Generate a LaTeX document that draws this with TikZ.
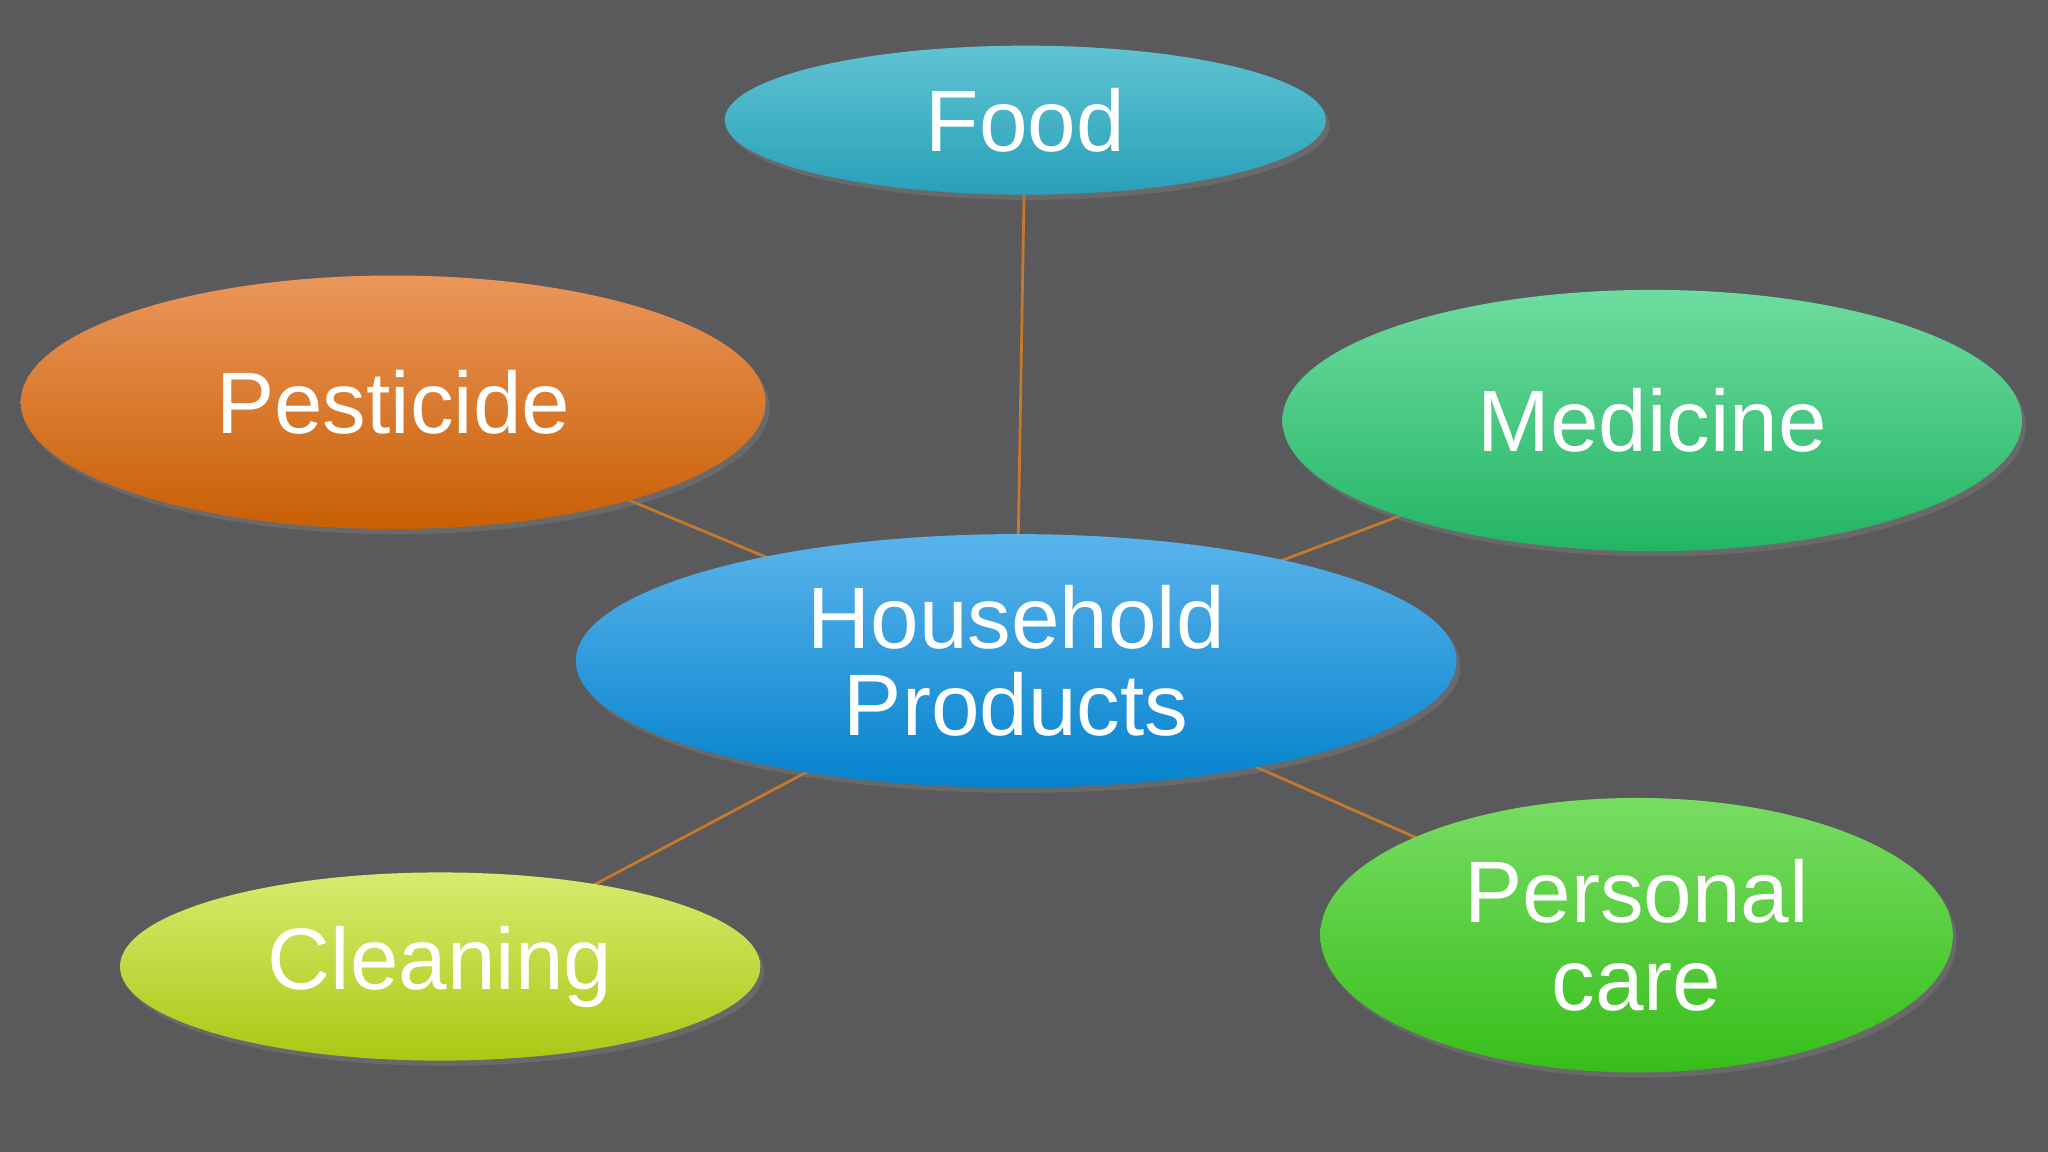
\documentclass[tikz,border=0pt]{standalone}
\usepackage{fontspec}
\setmainfont{Liberation Sans}
\usetikzlibrary{shapes.geometric,shadows}
\pgfdeclarelayer{bg}
\pgfsetlayers{bg,main}
\definecolor{bgc}{HTML}{5A5A5C}
\definecolor{linec}{HTML}{C8782A}
\tikzset{
 ell/.style={ellipse,inner sep=0pt,text=white,align=center,
   font=\fontsize{19}{19}\selectfont,drop shadow={opacity=0.4,shadow xshift=0.03cm,shadow yshift=-0.04cm}},
 conn/.style={draw=linec,line width=0.6pt}
}
\begin{document}
\begin{tikzpicture}[x=0.01cm,y=-0.01cm]
\begin{pgfonlayer}{bg}
\fill[bgc] (0,0) rectangle (1568,882);
\end{pgfonlayer}
\useasboundingbox (0,0) rectangle (1568,882);
\node[ell,minimum width=4.6cm,minimum height=1.14cm,top color={rgb,255:red,95;green,195;blue,210},bottom color={rgb,255:red,40;green,160;blue,185}] (food) at (785,92) {Food};
\node[ell,minimum width=5.7cm,minimum height=1.94cm,top color={rgb,255:red,235;green,150;blue,90},bottom color={rgb,255:red,200;green,95;blue,5}] (pest) at (301,308) {Pesticide};
\node[ell,minimum width=5.66cm,minimum height=2.0cm,top color={rgb,255:red,110;green,220;blue,160},bottom color={rgb,255:red,35;green,180;blue,100}] (med) at (1265,322) {Medicine};
\node[ell,minimum width=6.74cm,minimum height=1.94cm,top color={rgb,255:red,90;green,180;blue,235},bottom color={rgb,255:red,5;green,130;blue,205}] (house) at (778,506) {Household\\Products};
\node[ell,minimum width=4.9cm,minimum height=1.44cm,top color={rgb,255:red,215;green,235;blue,110},bottom color={rgb,255:red,170;green,200;blue,20}] (clean) at (337,740) {Cleaning};
\node[ell,minimum width=4.84cm,minimum height=2.1cm,top color={rgb,255:red,120;green,220;blue,100},bottom color={rgb,255:red,55;green,190;blue,25}] (pers) at (1253,716) {Personal\\care};
\begin{pgfonlayer}{bg}
\draw[conn] (food.center) -- (house.center);
\draw[conn] (pest.center) -- (house.center);
\draw[conn] (med.center) -- (house.center);
\draw[conn] (clean.center) -- (house.center);
\draw[conn] (pers.center) -- (house.center);
\end{pgfonlayer}
\end{tikzpicture}
\end{document}
